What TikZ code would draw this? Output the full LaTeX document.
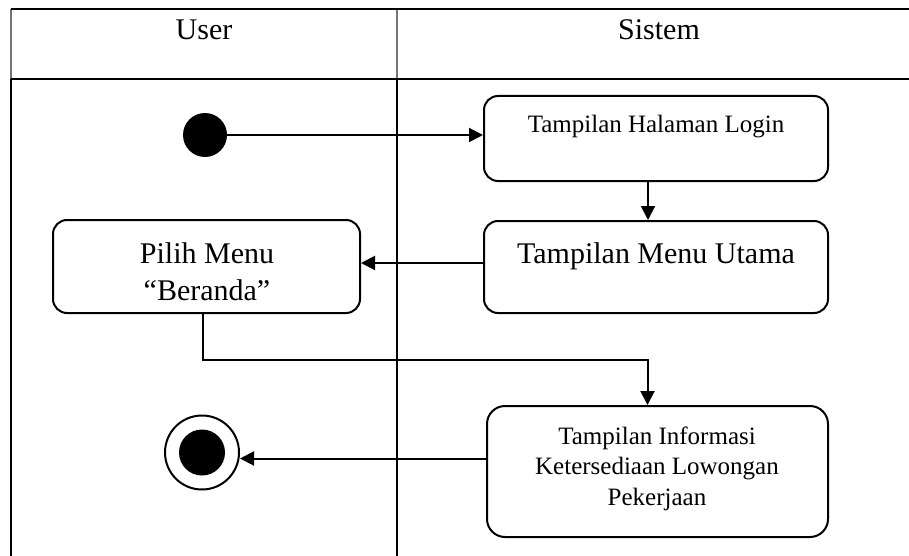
\documentclass[tikz,border=0pt]{standalone}
\usepackage{fontspec}
\setmainfont{Liberation Serif}
\usetikzlibrary{arrows.meta}
\tikzset{
  frame/.style={line width=2.6pt, black},
  headframe/.style={line width=2pt, black!55},
  act/.style={draw, line width=2pt, rounded corners=14pt, inner sep=0pt},
  lbl/.style={inner sep=0pt, align=center},
  big/.style={font=\fontsize{30}{37}\selectfont},
  small/.style={font=\fontsize{25}{30.5}\selectfont},
  flow/.style={line width=2pt, -{Triangle[length=14pt,width=14pt]}},
}
\begin{document}
\begin{tikzpicture}[x=1pt,y=-1pt]
\useasboundingbox (0,0) rectangle (909,556);

% swimlane frame
\draw[headframe] (11,9) -- (11,79);
\draw[headframe] (397,9) -- (397,79);
\draw[frame] (11,9) -- (909,9);
\draw[frame] (11,79) -- (909,79);
\draw[frame] (11,79) -- (11,556);
\draw[frame] (397,79) -- (397,556);

% lane titles
\node[lbl, big, anchor=base] (userT) at (204,40) {User};
\node[lbl, big, anchor=base] (sisT) at (659,40) {Sistem};

% activities
\node[act, minimum width=344pt, minimum height=85pt] (login) at (656,138.5) {};
\node[act, minimum width=344pt, minimum height=92pt] (menu) at (656,267) {};
\node[act, minimum width=307pt, minimum height=93pt] (pilih) at (206.5,266.5) {};
\node[act, minimum width=341pt, minimum height=131pt, rounded corners=18pt] (info) at (657.5,471.5) {};

% labels (multi-line labels sit on the baseline of their last line)
\node[lbl, small, anchor=base] (loginT) at (656,133) {Tampilan Halaman Login};
\node[lbl, big, anchor=base] (menuT) at (656,263) {Tampilan Menu Utama};
\node[lbl, big, anchor=base] (pilihT) at (207,300) {Pilih Menu\\“Beranda”};
\node[lbl, small, anchor=base] (infoT) at (657,505) {Tampilan Informasi\\Ketersediaan Lowongan\\Pekerjaan};

% initial and final states
\node[circle, fill, minimum size=44pt, inner sep=0pt] (start) at (205,135) {};
\node[circle, draw, line width=2pt, minimum size=74pt, inner sep=0pt] (endc) at (202,452.5) {};
\node[circle, fill, minimum size=46pt, inner sep=0pt] (endin) at (endc) {};

% control flow
\draw[flow] (start) -- (start -| login.west);
\draw[flow] ([xshift=-8pt]login.south) -- ([xshift=-8pt]menu.north);
\draw[flow] ([yshift=4pt]menu.west) -- ([yshift=4pt]menu.west -| pilih.east);
\draw[flow] ([xshift=-3.5pt]pilih.south) -- ++(0,46) -| ([xshift=-10pt]info.north);
\draw[flow] ([yshift=-6pt]info.west |- endc.center) -- ([yshift=-6pt]endc.east);
\end{tikzpicture}
\end{document}
